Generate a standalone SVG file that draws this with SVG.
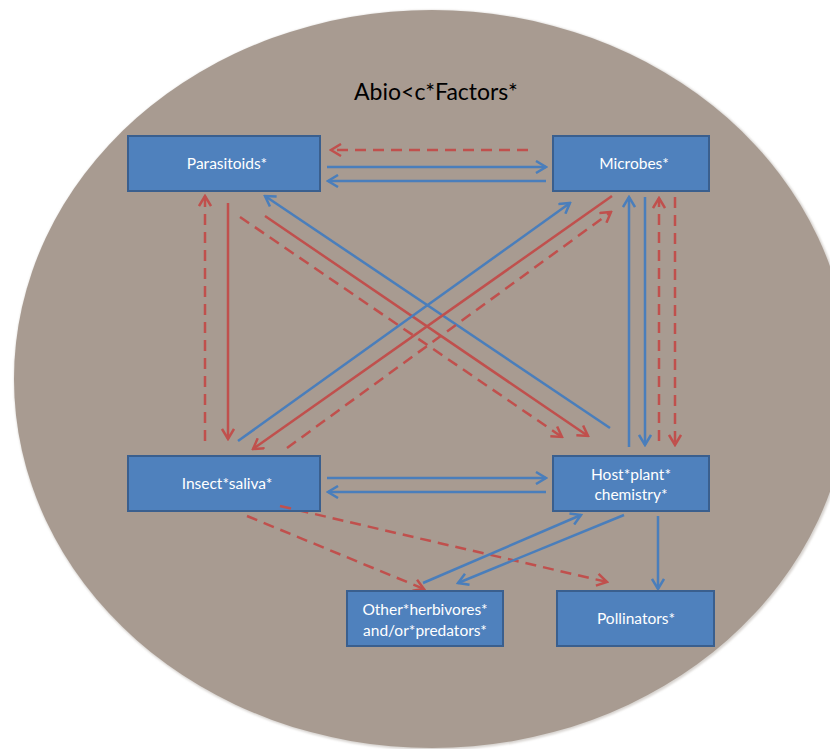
<svg xmlns="http://www.w3.org/2000/svg" width="830" height="749" viewBox="0 0 830 749">
<style>
.box{fill:#4f81bd;stroke:#3a5f8e;stroke-width:2}
.lbl{font-family:Lato,"Open Sans","Liberation Sans",sans-serif;font-size:15.5px;fill:#ffffff;text-anchor:middle}
.title{font-family:Lato,"Open Sans","Liberation Sans",sans-serif;font-size:23px;fill:#000000;text-anchor:middle}
.b{stroke:#4a7ebb;stroke-width:2.5;fill:none;marker-end:url(#ab)}
.r{stroke:#c0504d;stroke-width:2.5;fill:none;marker-end:url(#ar)}
.rd{stroke:#c0504d;stroke-width:2.5;fill:none;stroke-dasharray:11 7;marker-end:url(#ar)}
</style>
<defs>
<marker id="ab" markerUnits="userSpaceOnUse" viewBox="0 0 14 14" refX="12" refY="7" markerWidth="14" markerHeight="14" orient="auto">
<path d="M2,1 L12,7 L2,13" fill="none" stroke="#4a7ebb" stroke-width="2.5"/>
</marker>
<marker id="ar" markerUnits="userSpaceOnUse" viewBox="0 0 14 14" refX="12" refY="7" markerWidth="14" markerHeight="14" orient="auto">
<path d="M2,1 L12,7 L2,13" fill="none" stroke="#c0504d" stroke-width="2.5"/>
</marker>
<filter id="soft" x="-5%" y="-5%" width="110%" height="110%">
<feGaussianBlur stdDeviation="1.2"/>
</filter>
</defs>
<rect width="830" height="749" fill="#ffffff"/>
<ellipse cx="433" cy="380" rx="419" ry="370" fill="#d8d4d0" filter="url(#soft)"/>
<ellipse id="abiotic" cx="432" cy="379" rx="418" ry="369" fill="#a89b91"/>
<text class="title" x="436" y="100">Abio&lt;c*Factors*</text>

<g id="connectors">
<path class="rd" d="M528,150 L331,150"/>
<path class="b" d="M327,167 L546,167"/>
<path class="b" d="M546,181 L328,181"/>
<path class="b" d="M327,478 L546,478"/>
<path class="b" d="M546,492 L328,492"/>
<path class="rd" d="M205,441 L205,196"/>
<path class="r" d="M228,203 L228,439"/>
<path class="b" d="M629,447 L629,197"/>
<path class="b" d="M645,197 L645,445"/>
<path class="rd" d="M659,441 L659,198"/>
<path class="rd" d="M675,197 L675,445"/>
<path class="b" d="M610,428 L265,196"/>
<path class="r" d="M265,216 L588,436"/>
<path class="rd" d="M240,217 L562,437"/>
<path class="b" d="M238,441 L570,203"/>
<path class="r" d="M612,196 L253,449"/>
<path class="rd" d="M287,448 L611,212"/>
<path class="rd" d="M247,516 L424,589"/>
<path class="rd" d="M280,506 L607,582"/>
<path class="b" d="M423,583 L581,515"/>
<path class="b" d="M624,515 L458,583"/>
<path class="b" d="M658,516 L658,589"/>
</g>

<g id="parasitoids"><rect class="box" x="128" y="136" width="192" height="55"/><text class="lbl" x="227" y="169">Parasitoids*</text></g>
<g id="microbes"><rect class="box" x="553" y="136" width="156" height="55"/><text class="lbl" x="634" y="169">Microbes*</text></g>
<g id="insect-saliva"><rect class="box" x="128" y="456" width="192" height="55"/><text class="lbl" x="227" y="489">Insect*saliva*</text></g>
<g id="host-plant"><rect class="box" x="553" y="456" width="156" height="55"/><text class="lbl" x="631" y="480">Host*plant*</text><text class="lbl" x="631" y="500">chemistry*</text></g>
<g id="other-herbivores"><rect class="box" x="347" y="591" width="156" height="55"/><text class="lbl" x="425" y="615">Other*herbivores*</text><text class="lbl" x="425" y="636">and/or*predators*</text></g>
<g id="pollinators"><rect class="box" x="557" y="591" width="157" height="55"/><text class="lbl" x="636" y="624">Pollinators*</text></g>

<g id="connectors-over">
<path d="M280,506 L291,508.5" stroke="#c0504d" stroke-width="2.5"/>
</g>
</svg>
